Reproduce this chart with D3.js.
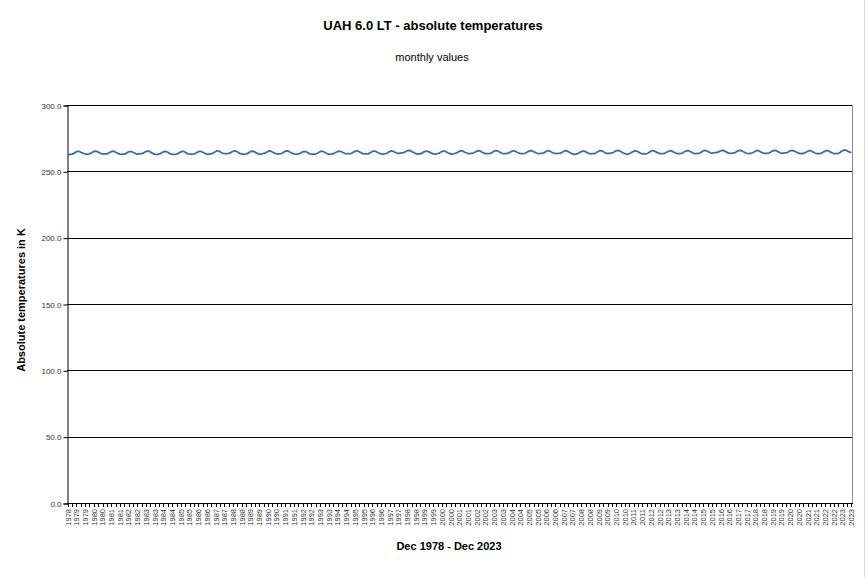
<!DOCTYPE html>
<html><head><meta charset="utf-8">
<script src="https://cdn.jsdelivr.net/npm/d3@7"></script>
<style>body{margin:0;background:#fff;}svg{display:block;font-family:"Liberation Sans",Arial,sans-serif;}</style>
</head><body><svg id="c" width="866" height="577"></svg>
<script>
// Monthly absolute LT temperatures (K), Dec 1978 .. Dec 2023
const temps = [
262.8,
262.7,262.8,263.0,263.4,264.1,264.8,265.0,265.0,264.4,263.9,263.4,263.1,
263.0,263.0,263.2,263.7,264.4,265.0,265.2,265.1,264.5,263.9,263.4,262.9,
263.1,263.1,263.2,263.6,264.3,264.8,265.2,265.1,264.4,263.8,263.3,262.9,
262.8,262.9,263.0,263.4,264.1,264.7,264.9,264.9,264.3,263.8,263.3,262.9,
263.2,263.3,263.4,263.7,264.4,265.0,265.3,265.2,264.5,263.9,263.3,262.9,
262.8,262.8,263.1,263.4,264.1,264.7,265.0,264.9,264.4,263.7,263.1,262.8,
262.8,262.8,263.0,263.4,264.1,264.7,265.0,265.0,264.3,263.7,263.2,262.9,
262.9,263.0,263.2,263.5,264.2,264.8,265.1,265.0,264.4,263.8,263.3,262.9,
263.0,263.2,263.2,263.7,264.4,265.0,265.4,265.4,264.7,264.1,263.6,263.3,
263.4,263.3,263.5,263.9,264.6,265.1,265.4,265.3,264.6,263.9,263.3,263.0,
262.9,263.0,263.1,263.5,264.2,264.9,265.2,265.1,264.5,263.9,263.3,263.0,
263.0,263.2,263.5,263.7,264.4,265.0,265.4,265.2,264.6,264.1,263.5,263.2,
263.2,263.2,263.4,263.8,264.5,265.2,265.4,265.3,264.6,264.0,263.5,263.1,
263.0,263.0,263.2,263.5,264.1,264.7,265.0,264.9,264.4,263.7,263.2,263.0,
262.9,263.0,263.1,263.6,264.2,264.9,265.2,265.0,264.4,263.8,263.2,262.9,
263.0,263.0,263.3,263.8,264.4,264.9,265.3,265.1,264.6,264.0,263.5,263.1,
263.3,263.4,263.4,263.8,264.5,265.1,265.5,265.3,264.7,264.2,263.5,263.1,
263.1,263.2,263.2,263.7,264.4,265.0,265.3,265.2,264.6,264.0,263.5,263.1,
263.0,263.2,263.3,263.6,264.3,265.0,265.4,265.3,264.7,264.2,263.7,263.4,
263.7,263.9,263.9,264.4,265.0,265.5,265.8,265.7,264.9,264.5,263.8,263.4,
263.0,263.3,263.2,263.7,264.3,264.9,265.3,265.1,264.7,264.1,263.5,263.1,
263.0,263.2,263.3,263.7,264.4,265.0,265.3,265.3,264.6,264.0,263.5,263.0,
263.2,263.3,263.5,263.9,264.6,265.2,265.5,265.4,264.8,264.2,263.8,263.4,
263.4,263.5,263.6,264.0,264.6,265.3,265.6,265.4,264.8,264.2,263.7,263.3,
263.4,263.4,263.5,263.9,264.6,265.3,265.6,265.5,264.9,264.3,263.8,263.4,
263.3,263.4,263.5,263.9,264.5,265.1,265.5,265.3,264.8,264.2,263.7,263.3,
263.4,263.4,263.6,264.0,264.7,265.3,265.6,265.5,264.9,264.4,263.8,263.4,
263.3,263.5,263.5,263.9,264.5,265.2,265.5,265.4,264.8,264.2,263.7,263.4,
263.6,263.6,263.6,263.9,264.6,265.2,265.6,265.4,264.8,264.2,263.6,263.2,
262.8,263.0,263.1,263.6,264.3,264.9,265.3,265.2,264.7,264.1,263.6,263.2,
263.3,263.3,263.4,263.8,264.5,265.2,265.6,265.5,264.9,264.2,263.7,263.4,
263.6,263.7,263.8,264.2,264.9,265.5,265.7,265.6,265.0,264.3,263.8,263.4,
263.0,263.0,263.3,263.8,264.5,265.1,265.4,265.3,264.8,264.1,263.6,263.2,
263.1,263.2,263.4,263.8,264.5,265.2,265.7,265.4,264.9,264.3,263.8,263.3,
263.4,263.4,263.5,264.0,264.6,265.2,265.5,265.4,264.9,264.3,263.8,263.4,
263.4,263.4,263.5,264.0,264.8,265.3,265.6,265.5,264.9,264.4,263.8,263.4,
263.4,263.5,263.6,263.9,264.8,265.4,265.7,265.6,265.1,264.5,264.0,263.7,
263.9,264.1,264.1,264.5,264.9,265.5,265.8,265.7,265.1,264.5,263.9,263.5,
263.6,263.7,263.7,264.1,264.9,265.4,265.7,265.8,265.2,264.6,264.0,263.6,
263.4,263.5,263.6,264.0,264.6,265.3,265.7,265.6,265.0,264.4,263.9,263.5,
263.6,263.6,263.8,264.2,264.9,265.5,265.7,265.7,265.1,264.5,264.0,263.6,
263.8,263.9,263.9,264.2,264.9,265.5,265.8,265.6,265.1,264.6,264.1,263.5,
263.4,263.5,263.4,263.9,264.6,265.2,265.6,265.5,265.0,264.4,263.8,263.4,
263.4,263.3,263.5,264.1,264.7,265.2,265.7,265.6,264.9,264.4,263.8,263.4,
263.3,263.3,263.6,264.0,264.9,265.5,266.1,266.0,265.6,264.9,264.5,264.0
];
const yTicks = [0, 50, 100, 150, 200, 250, 300];
const xLabels = ["1978","1979","1979","1980","1980","1981","1981","1982","1982","1983","1983","1984","1984","1985","1985","1986","1986","1987","1987","1988","1988","1989","1989","1990","1990","1991","1991","1992","1992","1993","1993","1994","1994","1995","1995","1996","1996","1997","1997","1998","1998","1999","1999","2000","2000","2001","2001","2002","2002","2003","2003","2004","2004","2005","2005","2006","2006","2007","2007","2008","2008","2009","2009","2010","2010","2011","2011","2012","2012","2013","2013","2014","2014","2015","2015","2016","2016","2017","2017","2018","2018","2019","2019","2020","2020","2021","2021","2022","2022","2023","2023"];
const labelEvery = 6, tickEvery = 3;

const svg = d3.select("#c");
const L = 67, R = 852, T = 105, B = 503;
const n = temps.length;
const x = d3.scaleLinear().domain([0, n - 1]).range([L + 0.7, R - 0.7]);
const y = d3.scaleLinear().domain([0, 300]).range([B, T]);

// page frame line on right
svg.append("line").attr("x1", 864.5).attr("x2", 864.5).attr("y1", 0).attr("y2", 577)
  .attr("stroke", "#d3d7de").attr("stroke-width", 1);

// gridlines
svg.append("g").selectAll("line").data(yTicks).join("line")
  .attr("x1", L).attr("x2", R)
  .attr("y1", d => Math.round(y(d)) + 0.5).attr("y2", d => Math.round(y(d)) + 0.5)
  .attr("stroke", "#000").attr("stroke-width", 1);

// right border
svg.append("line").attr("x1", R + 0.5).attr("x2", R + 0.5).attr("y1", T).attr("y2", B + 0.5)
  .attr("stroke", "#8a8a8a").attr("stroke-width", 1);

// y axis
const yAxis = d3.axisLeft(y).tickValues(yTicks).tickSize(4).tickPadding(2).tickFormat(d3.format(".1f"));
const gy = svg.append("g").attr("transform", `translate(${L + 0.5},0.5)`).call(yAxis);
gy.select(".domain").attr("stroke", "#000");
gy.selectAll(".tick line").attr("stroke", "#000");
gy.selectAll("text").attr("font-size", 8).attr("fill", "#333").attr("font-family", "Liberation Sans, Arial, sans-serif");

// x axis ticks
const tickIdx = d3.range(0, n, tickEvery);
svg.append("g").selectAll("line").data(tickIdx).join("line")
  .attr("x1", d => Math.round(x(d)) + 0.5).attr("x2", d => Math.round(x(d)) + 0.5)
  .attr("y1", B).attr("y2", B + 4).attr("stroke", "#000");
svg.append("line").attr("x1", L).attr("x2", R + 1).attr("y1", B + 0.5).attr("y2", B + 0.5).attr("stroke", "#000");

// x labels
svg.append("g").selectAll("text").data(xLabels).join("text")
  .attr("transform", (d, i) => `translate(${x(i * labelEvery) + 2.8},${B + 6}) rotate(-90)`)
  .attr("text-anchor", "end").attr("font-size", 7.5).attr("fill", "#333")
  .text(d => d);

// line
const line = d3.line().x((d, i) => x(i)).y(d => y(d));
svg.append("path").datum(temps).attr("d", line)
  .attr("fill", "none").attr("stroke", "#3a6db5").attr("stroke-width", 1.8).attr("stroke-linejoin", "round");

// titles
svg.append("text").attr("x", 433).attr("y", 30).attr("text-anchor", "middle")
  .attr("font-size", 13).attr("font-weight", "bold").attr("fill", "#000").text("UAH 6.0 LT - absolute temperatures");
svg.append("text").attr("x", 432).attr("y", 61).attr("text-anchor", "middle")
  .attr("font-size", 11).attr("fill", "#000").text("monthly values");
svg.append("text").attr("transform", "translate(25,300) rotate(-90)").attr("text-anchor", "middle")
  .attr("font-size", 11).attr("font-weight", "bold").attr("fill", "#000").text("Absolute temperatures in K");
svg.append("text").attr("x", 449).attr("y", 550).attr("text-anchor", "middle")
  .attr("font-size", 11).attr("font-weight", "bold").attr("fill", "#000").text("Dec 1978 - Dec 2023");
</script>
</body></html>
